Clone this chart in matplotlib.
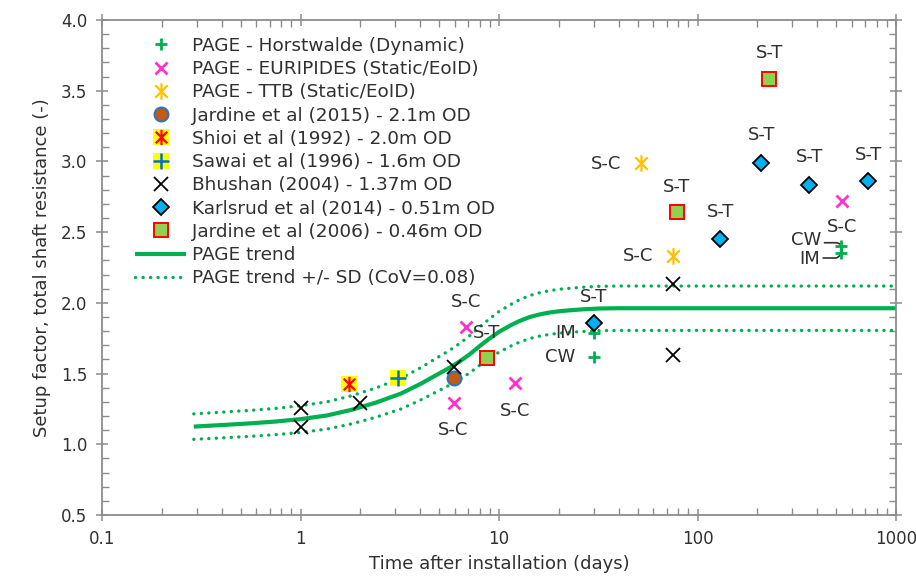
import numpy as np
import matplotlib
matplotlib.use("Agg")
import matplotlib.pyplot as plt
from matplotlib.path import Path
from matplotlib.ticker import FixedLocator, FuncFormatter, LogLocator, MultipleLocator
from matplotlib.legend_handler import HandlerTuple

plt.rcParams["font.family"] = ["DejaVu Sans"]
TXT = "#303030"
GRID = "#8c8c8c"

# ---- data: time after installation (days) and setup factor ----
horst_t = [30, 30, 530, 530]
horst_v = [1.62, 1.79, 2.40, 2.355]

euripides_t = [6.8, 5.9, 12.0, 532]
euripides_v = [1.83, 1.29, 1.43, 2.72]

ttb_t = [52, 75]
ttb_v = [2.99, 2.33]

jardine15_t = [5.9]
jardine15_v = [1.467]

shioi_t = [1.76]
shioi_v = [1.426]

sawai_t = [3.1]
sawai_v = [1.467]

bhushan_t = [1.0, 1.0, 2.0, 5.9, 75, 75]
bhushan_v = [1.254, 1.124, 1.29, 1.544, 2.134, 1.63]

karlsrud_t = [30, 130, 210, 366, 725]
karlsrud_v = [1.856, 2.452, 2.99, 2.83, 2.862]

jardine06_t = [8.7, 78.5, 230]
jardine06_v = [1.608, 2.645, 3.58]

trend_t = [0.29, 0.4, 0.56, 0.75, 1.0, 1.35, 1.8, 2.4, 3.2, 4.0, 4.8, 5.7, 6.4,
           7.1, 8.0, 9.0, 10.0, 11.4, 12.7, 14.3, 16.0, 18.0, 20.5, 23.0, 27.0,
           32.0, 40.0, 1000.0]
trend_v = [1.125, 1.136, 1.148, 1.161, 1.178, 1.203, 1.243, 1.295, 1.358, 1.425,
           1.487, 1.545, 1.590, 1.635, 1.695, 1.750, 1.795, 1.840, 1.872, 1.900,
           1.918, 1.932, 1.942, 1.948, 1.955, 1.960, 1.962, 1.962]
cov = 0.08

# annotation labels: (text, t, v, dx, dy) offsets in points
labels = [
    ("S-C", 6.8, 1.83, 0, 18), ("S-C", 5.9, 1.29, 0, -19), ("S-C", 12.0, 1.43, 0, -20),
    ("S-C", 532, 2.72, 0, -19),
    ("S-T", 8.7, 1.608, 0, 18), ("S-T", 78.5, 2.645, 0, 18), ("S-T", 230, 3.58, 0, 19),
    ("S-T", 30, 1.856, 0, 19), ("S-T", 130, 2.452, 0, 19.5), ("S-T", 210, 2.99, 0, 20),
    ("S-T", 366, 2.83, 0, 20.5), ("S-T", 725, 2.862, 0, 19),
    ("S-C", 52, 2.99, -25.5, -1), ("S-C", 75, 2.33, -25, 0),
    ("IM", 30, 1.79, -20.5, 0), ("CW", 30, 1.62, -24.5, 0),
]

# asterisk marker: vertical stroke crossed by an X
ast = Path([(0, -1), (0, 1), (-0.75, -0.75), (0.75, 0.75), (-0.75, 0.75), (0.75, -0.75)],
           [Path.MOVETO, Path.LINETO, Path.MOVETO, Path.LINETO, Path.MOVETO, Path.LINETO])

fig = plt.figure(figsize=(9.16, 5.77), dpi=100)
ax = fig.add_axes([102 / 916, 1 - 515 / 577, 794 / 916, 495 / 577])
ax.set_xscale("log")
ax.set_xlim(0.1, 1000)
ax.set_ylim(0.5, 4.0)

t_arr = np.array(trend_t)
v_arr = np.array(trend_v)
green = "#00b050"
trend_line, = ax.plot(t_arr, v_arr, color=green, lw=3.0, zorder=2, solid_capstyle="butt")
sd_line, = ax.plot(t_arr, v_arr * (1 + cov), color=green, lw=2.4, ls=(0, (0.05, 2.2)),
                   dash_capstyle="round", zorder=2)
ax.plot(t_arr, v_arr * (1 - cov), color=green, lw=2.4, ls=(0, (0.05, 2.2)),
        dash_capstyle="round", zorder=2)

kw = dict(ls="none", zorder=4)
h1, = ax.plot(horst_t, horst_v, marker="+", ms=9, mew=2.0, color=green, **kw)
h2, = ax.plot(euripides_t, euripides_v, marker="x", ms=9, mew=2.0, color="#ff33cc", **kw)
h3, = ax.plot(ttb_t, ttb_v, marker=ast, ms=12, mew=1.6, color="#ffc000", **kw)
h4, = ax.plot(jardine15_t, jardine15_v, marker="o", ms=10, mew=1.5, mfc="#c55a11",
              mec="#2e75b6", **kw)
h5a, = ax.plot(shioi_t, shioi_v, marker="s", ms=12, mew=0, mfc="#ffff00", **kw)
h5b, = ax.plot(shioi_t, shioi_v, marker=ast, ms=11, mew=1.6, color="#ff0000", **kw)
h6a, = ax.plot(sawai_t, sawai_v, marker="s", ms=12, mew=0, mfc="#ffff00", **kw)
h6b, = ax.plot(sawai_t, sawai_v, marker="+", ms=11, mew=1.8, color="#0070c0", **kw)
h7, = ax.plot(bhushan_t, bhushan_v, marker="x", ms=10, mew=1.3, color="#000000", **kw)
h8, = ax.plot(karlsrud_t, karlsrud_v, marker="D", ms=8.5, mew=1.3, mfc="#00b0f0",
              mec="#000000", **kw)
h9, = ax.plot(jardine06_t, jardine06_v, marker="s", ms=9.5, mew=1.4, mfc="#92d050",
              mec="#ff0000", **kw)

FS = 13
for txt, t, v, dx, dy in labels:
    ax.annotate(txt, (t, v), xytext=(dx, dy), textcoords="offset points",
                ha="center", va="center", fontsize=FS, color=TXT, zorder=5)

# leader lines for the two readings at 530 days
ax.annotate("CW", (horst_t[2], horst_v[2]), xytext=(-25, 4.5), textcoords="offset points",
            ha="center", va="center", fontsize=FS, color=TXT,
            arrowprops=dict(arrowstyle="-", color=TXT, lw=1.2, shrinkA=0, shrinkB=2,
                            connectionstyle="angle,angleA=0,angleB=-60,rad=3",
                            relpos=(1.0, 0.35)))
ax.annotate("IM", (horst_t[3], horst_v[3]), xytext=(-22.5, -4.5), textcoords="offset points",
            ha="center", va="center", fontsize=FS, color=TXT,
            arrowprops=dict(arrowstyle="-", color=TXT, lw=1.2, shrinkA=0, shrinkB=2,
                            connectionstyle="angle,angleA=0,angleB=60,rad=3",
                            relpos=(1.0, 0.55)))

# axes styling
for s in ax.spines.values():
    s.set_color(GRID)
    s.set_linewidth(1.3)
ax.xaxis.set_major_locator(FixedLocator([0.1, 1, 10, 100, 1000]))
ax.xaxis.set_minor_locator(LogLocator(base=10, subs=np.arange(2, 10)))
ax.xaxis.set_major_formatter(FuncFormatter(lambda x, p: f"{x:g}"))
ax.xaxis.set_minor_formatter(FuncFormatter(lambda x, p: ""))
ax.yaxis.set_major_locator(MultipleLocator(0.5))
ax.yaxis.set_minor_locator(MultipleLocator(0.1))
ax.yaxis.set_major_formatter(FuncFormatter(lambda y, p: f"{y:.1f}"))
ax.tick_params(which="major", direction="inout", length=9, width=1.1, color=GRID,
               top=True, right=True, labelsize=12, labelcolor=TXT, pad=6)
ax.tick_params(which="minor", direction="in", length=5, width=1.0, color=GRID,
               top=True, right=True)
ax.set_xlabel("Time after installation (days)", fontsize=FS, color=TXT, labelpad=5)
ax.set_ylabel("Setup factor, total shaft resistance (-)", fontsize=FS, color=TXT,
              labelpad=7)

handles = [h1, h2, h3, h4, (h5a, h5b), (h6a, h6b), h7, h8, h9, trend_line, sd_line]
names = ["PAGE - Horstwalde (Dynamic)", "PAGE - EURIPIDES (Static/EoID)",
         "PAGE - TTB (Static/EoID)", "Jardine et al (2015) - 2.1m OD",
         "Shioi et al (1992) - 2.0m OD", "Sawai et al (1996) - 1.6m OD",
         "Bhushan (2004) - 1.37m OD", "Karlsrud et al (2014) - 0.51m OD",
         "Jardine et al (2006) - 0.46m OD", "PAGE trend", "PAGE trend +/- SD (CoV=0.08)"]
leg = ax.legend(handles, names, loc="upper left", bbox_to_anchor=(0.042, 0.966),
                frameon=False, fontsize=13.3, numpoints=1, handlelength=2.75,
                handletextpad=0.32, labelspacing=0.285, borderpad=0, borderaxespad=0,
                handler_map={tuple: HandlerTuple(ndivide=1)})
for t in leg.get_texts():
    t.set_color(TXT)

fig.savefig("out.png", dpi=100)
